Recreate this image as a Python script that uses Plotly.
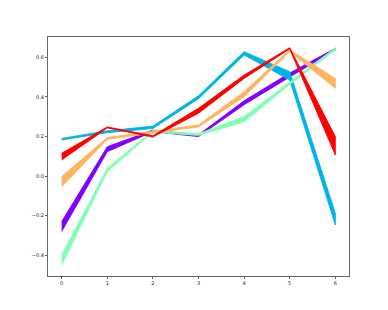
import plotly.graph_objects as go

x = [0, 1, 2, 3, 4, 5, 6]

purple_lo = [-0.28, 0.123, 0.224, 0.199, 0.360, 0.500, 0.636]
purple_hi = [-0.23, 0.148, 0.232, 0.208, 0.380, 0.520, 0.645]
cyan_lo = [0.182, 0.219, 0.240, 0.390, 0.611, 0.485, -0.247]
cyan_hi = [0.190, 0.228, 0.252, 0.405, 0.628, 0.527, -0.188]
green_lo = [-0.45, 0.022, 0.222, 0.205, 0.274, 0.462, 0.636]
green_hi = [-0.40, 0.039, 0.230, 0.213, 0.300, 0.472, 0.648]
orange_lo = [-0.054, 0.185, 0.218, 0.248, 0.400, 0.628, 0.443]
orange_hi = [-0.003, 0.195, 0.226, 0.258, 0.426, 0.638, 0.493]
red_lo = [0.081, 0.243, 0.197, 0.317, 0.493, 0.642, 0.106]
red_hi = [0.115, 0.248, 0.203, 0.342, 0.510, 0.648, 0.199]

series = [
    ("#8000ff", purple_lo, purple_hi),
    ("#00b4eb", cyan_lo, cyan_hi),
    ("#80ffb4", green_lo, green_hi),
    ("#ffb462", orange_lo, orange_hi),
    ("#ff0000", red_lo, red_hi),
]

fig = go.Figure()
for color, lo, hi in series:
    fig.add_trace(go.Scatter(
        x=x + x[::-1], y=hi + lo[::-1],
        fill="toself", fillcolor=color, mode="lines",
        line=dict(color=color, width=0.9), showlegend=False, hoverinfo="skip"))

axis_common = dict(showgrid=False, zeroline=False, showline=True, mirror=True,
                   linecolor="#666666", linewidth=1, ticks="outside", ticklen=2,
                   tickcolor="#666666", tickfont=dict(family="DejaVu Sans", size=5, color="#222222"))
fig.update_xaxes(range=[-0.3, 6.3], tickvals=x, **axis_common)
fig.update_yaxes(range=[-0.505, 0.702], tickvals=[-0.4, -0.2, 0.0, 0.2, 0.4, 0.6],
                 ticktext=["\u22120.4", "\u22120.2", "0.0", "0.2", "0.4", "0.6"], **axis_common)
fig.update_layout(width=388, height=310, margin=dict(l=40, r=47, t=29, b=42),
                  plot_bgcolor="white", paper_bgcolor="white")
fig.write_html("out.html")
